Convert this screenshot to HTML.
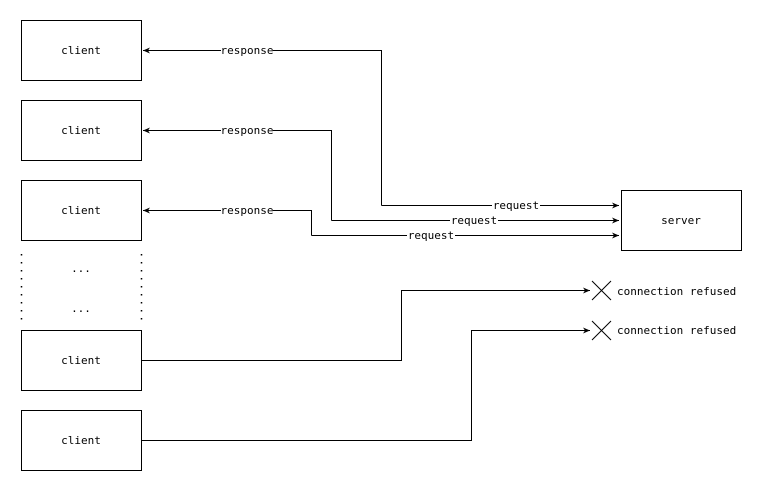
<!DOCTYPE html>
<html><head><style>
body{margin:0;background:#fff;}
text{font-family:"DejaVu Sans Mono","Liberation Mono",monospace;font-size:11px;fill:#000;}
</style></head><body>
<svg width="772" height="491" viewBox="0 0 772 491" xmlns="http://www.w3.org/2000/svg">
<defs><marker id="a" markerWidth="8" markerHeight="8" refX="7" refY="4" orient="auto" markerUnits="userSpaceOnUse"><path d="M0,1 L7,4 L0,7 L2,4 Z" fill="#000"/></marker></defs>
<g fill="none" stroke="#000" stroke-width="1">
<rect x="21.5" y="20.5" width="120" height="60"/>
<rect x="21.5" y="100.5" width="120" height="60"/>
<rect x="21.5" y="180.5" width="120" height="60"/>
<rect x="21.5" y="330.5" width="120" height="60"/>
<rect x="21.5" y="410.5" width="120" height="60"/>
<rect x="621.5" y="190.5" width="120" height="60"/>
<line x1="21.5" y1="254" x2="21.5" y2="322" stroke-dasharray="1.5,6.5" stroke-width="1.5"/>
<line x1="141.5" y1="254" x2="141.5" y2="322" stroke-dasharray="1.5,6.5" stroke-width="1.5"/>
<polyline points="381.5,205.5 381.5,50.5 143,50.5" marker-end="url(#a)"/>
<polyline points="381.5,205.5 619,205.5" marker-end="url(#a)"/>
<polyline points="331.5,220.5 331.5,130.5 143,130.5" marker-end="url(#a)"/>
<polyline points="331.5,220.5 619,220.5" marker-end="url(#a)"/>
<polyline points="311.5,235.5 311.5,210.5 143,210.5" marker-end="url(#a)"/>
<polyline points="311.5,235.5 619,235.5" marker-end="url(#a)"/>
<polyline points="141.5,360.5 401.5,360.5 401.5,290.5 590,290.5" marker-end="url(#a)"/>
<polyline points="141.5,440.5 471.5,440.5 471.5,330.5 590,330.5" marker-end="url(#a)"/>
<path d="M592,281 L611,300 M611,281 L592,300"/>
<path d="M592,321 L611,340 M611,321 L592,340"/>
</g>
<g>
<rect x="221" y="44" width="52" height="12" fill="#fff"/>
<rect x="221" y="124" width="52" height="12" fill="#fff"/>
<rect x="221" y="204" width="52" height="12" fill="#fff"/>
<rect x="492" y="199" width="48" height="12" fill="#fff"/>
<rect x="450" y="214" width="48" height="12" fill="#fff"/>
<rect x="407" y="229" width="48" height="12" fill="#fff"/>
</g>
<g text-anchor="middle">
<text x="81" y="54">client</text>
<text x="81" y="134">client</text>
<text x="81" y="214">client</text>
<text x="81" y="364">client</text>
<text x="81" y="444">client</text>
<text x="681" y="224">server</text>
<text x="81" y="272">...</text>
<text x="81" y="312">...</text>
<text x="247" y="54">response</text>
<text x="247" y="134">response</text>
<text x="247" y="214">response</text>
<text x="516" y="209">request</text>
<text x="474" y="224">request</text>
<text x="431" y="239">request</text>
</g>
<text x="617" y="295">connection refused</text>
<text x="617" y="334">connection refused</text>
</svg>
</body></html>
